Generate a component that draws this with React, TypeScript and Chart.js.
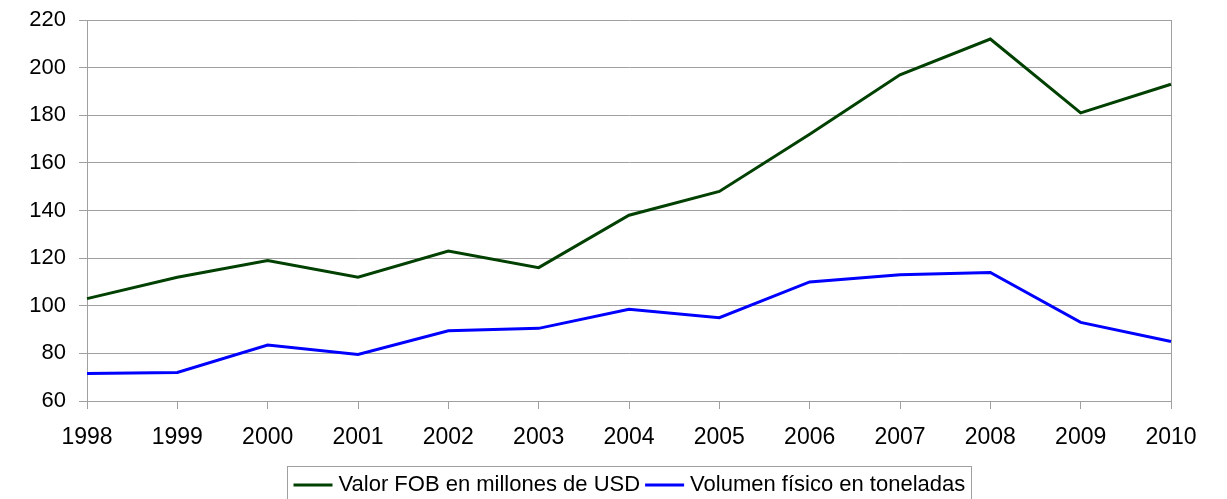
import React, { useEffect, useRef } from 'react';
import { Chart, registerables } from 'chart.js';

Chart.register(...registerables);

const years = ['1998', '1999', '2000', '2001', '2002', '2003', '2004', '2005', '2006', '2007', '2008', '2009', '2010'];
const valorFob = [103, 112, 119, 112, 123, 116, 138, 148, 172, 197, 212, 181, 193];
const volumenFisico = [71.5, 72, 83.5, 79.5, 89.5, 90.5, 98.5, 95, 110, 113, 114, 93, 85];
const seriesLabels = ['Valor FOB en millones de USD', 'Volumen físico en toneladas'];
const seriesColors = ['#004000', '#0000ff'];
const yMin = 60;
const yMax = 220;
const yStep = 20;

const FONT = '"Liberation Sans", Arial, Helvetica, sans-serif';
const GRID = '#a0a0a0';

const frameAndLegend = {
  id: 'frameAndLegend',
  beforeDatasetsDraw(chart: any) {
    const { ctx, chartArea } = chart;
    ctx.save();
    ctx.strokeStyle = GRID;
    ctx.lineWidth = 1;
    const x = Math.round(chartArea.right) + 0.5;
    ctx.beginPath();
    ctx.moveTo(x, chartArea.top);
    ctx.lineTo(x, chartArea.bottom);
    ctx.stroke();
    ctx.restore();
  },
  afterDraw(chart: any) {
    const { ctx, chartArea } = chart;
    ctx.save();
    ctx.font = '22px ' + FONT;
    const lineLen = 39;
    const lineGap = 6;
    const itemGap = 5;
    const boxPad = 6;
    const items = chart.data.datasets.map((d: any) => ({
      label: d.label,
      color: d.borderColor,
      w: ctx.measureText(d.label).width,
    }));
    let total = 0;
    items.forEach((it: any, i: number) => {
      total += lineLen + lineGap + it.w + (i < items.length - 1 ? itemGap : 0);
    });
    const boxW = total + boxPad * 2;
    const cx = (chartArea.left + chartArea.right) / 2;
    const boxLeft = Math.round(cx - boxW / 2) + 0.5;
    const boxTop = 466.5;
    ctx.strokeStyle = GRID;
    ctx.lineWidth = 1;
    ctx.strokeRect(boxLeft, boxTop, Math.round(boxW), 38);
    const cy = 485;
    let x = boxLeft + boxPad;
    items.forEach((it: any) => {
      ctx.strokeStyle = it.color;
      ctx.lineWidth = 3;
      ctx.beginPath();
      ctx.moveTo(x, cy);
      ctx.lineTo(x + lineLen, cy);
      ctx.stroke();
      x += lineLen + lineGap;
      ctx.fillStyle = '#000';
      ctx.textBaseline = 'middle';
      ctx.textAlign = 'left';
      ctx.fillText(it.label, x, cy);
      x += it.w + itemGap;
    });
    ctx.restore();
  },
};

export default function App() {
  const ref = useRef<HTMLCanvasElement | null>(null);

  useEffect(() => {
    if (!ref.current) return;
    const chart = new Chart(ref.current, {
      type: 'line',
      data: {
        labels: years,
        datasets: [
          {
            label: seriesLabels[0],
            data: valorFob,
            borderColor: seriesColors[0],
            backgroundColor: seriesColors[0],
            borderWidth: 3,
            pointRadius: 0,
            tension: 0,
            fill: false,
          },
          {
            label: seriesLabels[1],
            data: volumenFisico,
            borderColor: seriesColors[1],
            backgroundColor: seriesColors[1],
            borderWidth: 3,
            pointRadius: 0,
            tension: 0,
            fill: false,
          },
        ],
      },
      options: {
        responsive: false,
        animation: false,
        devicePixelRatio: 1,
        layout: { padding: { top: 20, right: 56, bottom: 38, left: 0 } },
        plugins: {
          legend: { display: false },
          tooltip: { enabled: false },
        },
        scales: {
          x: {
            type: 'category',
            offset: false,
            grid: {
              display: true,
              drawOnChartArea: false,
              drawTicks: true,
              tickLength: 8,
              color: GRID,
            },
            border: { display: true, color: GRID, width: 1 },
            ticks: {
              color: '#000',
              font: { family: FONT, size: 23 },
              padding: 15,
              maxRotation: 0,
              autoSkip: false,
            },
            afterFit: (scale: any) => {
              scale.height = 60;
            },
          },
          y: {
            min: yMin,
            max: yMax,
            grid: {
              display: true,
              drawOnChartArea: true,
              drawTicks: true,
              tickLength: 8,
              color: GRID,
            },
            border: { display: true, color: GRID, width: 1 },
            ticks: {
              stepSize: yStep,
              color: '#000',
              font: { family: FONT, size: 22 },
              padding: 13,
            },
            afterFit: (scale: any) => {
              scale.width = 87;
              scale.paddingTop = 0;
              scale.paddingBottom = 0;
            },
          },
        },
      },
      plugins: [frameAndLegend],
    });
    return () => chart.destroy();
  }, []);

  return (
    <div style={{ position: 'fixed', left: 0, top: 0, width: 1227, height: 499, background: '#fff' }}>
      <canvas ref={ref} width={1227} height={499} />
    </div>
  );
}
